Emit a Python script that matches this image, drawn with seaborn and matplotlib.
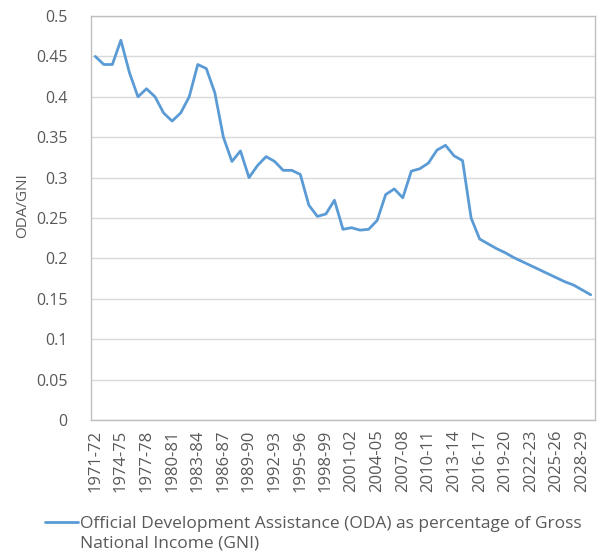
import seaborn as sns
import matplotlib.pyplot as plt
import pandas as pd

# financial years, 1971-72 through 2029-30
years = [
    '1971-72', '1972-73', '1973-74', '1974-75', '1975-76', '1976-77', '1977-78', '1978-79',
    '1979-80', '1980-81', '1981-82', '1982-83', '1983-84', '1984-85', '1985-86', '1986-87',
    '1987-88', '1988-89', '1989-90', '1990-91', '1991-92', '1992-93', '1993-94', '1994-95',
    '1995-96', '1996-97', '1997-98', '1998-99', '1999-00', '2000-01', '2001-02', '2002-03',
    '2003-04', '2004-05', '2005-06', '2006-07', '2007-08', '2008-09', '2009-10', '2010-11',
    '2011-12', '2012-13', '2013-14', '2014-15', '2015-16', '2016-17', '2017-18', '2018-19',
    '2019-20', '2020-21', '2021-22', '2022-23', '2023-24', '2024-25', '2025-26', '2026-27',
    '2027-28', '2028-29', '2029-30',
]

oda_gni = [
    0.450, 0.440, 0.440, 0.470, 0.430, 0.400, 0.410, 0.400,
    0.380, 0.370, 0.380, 0.400, 0.440, 0.435, 0.405, 0.350,
    0.320, 0.333, 0.300, 0.315, 0.326, 0.320, 0.309, 0.309,
    0.304, 0.266, 0.252, 0.255, 0.272, 0.236, 0.238, 0.235,
    0.236, 0.247, 0.279, 0.286, 0.275, 0.308, 0.311, 0.318,
    0.334, 0.340, 0.327, 0.321, 0.250, 0.224, 0.218, 0.212,
    0.207, 0.201, 0.196, 0.191, 0.186, 0.181, 0.176, 0.171,
    0.167, 0.161, 0.155,
]

label_line1 = 'Official Development Assistance (ODA) as percentage of Gross'
label_line2 = 'National Income (GNI)'

df = pd.DataFrame({'year': years, 'oda': oda_gni})

sns.set_style("white")
plt.rcParams['font.family'] = ['Open Sans', 'DejaVu Sans']

fig = plt.figure(figsize=(5.97, 5.56), dpi=100)
ax = fig.add_axes([0.1524, 0.2446, 0.8442, 0.7266])

sns.lineplot(data=df, x='year', y='oda', sort=False, color='#5B9BD5',
             linewidth=2.0, label=label_line1, ax=ax)

text_col = '#595959'
ax.set_ylim(0, 0.5)
ax.set_yticks([0, 0.05, 0.1, 0.15, 0.2, 0.25, 0.3, 0.35, 0.4, 0.45, 0.5])
ax.set_yticklabels(['0', '0.05', '0.1', '0.15', '0.2', '0.25', '0.3', '0.35',
                    '0.4', '0.45', '0.5'])
ax.set_xlim(-0.5, len(years) - 0.5)
ax.set_xticks(range(0, len(years), 3))
ax.set_xticklabels(years[::3], rotation=90)
ax.tick_params(axis='both', length=0, colors=text_col)
ax.tick_params(axis='x', labelsize=12, pad=7)
ax.tick_params(axis='y', labelsize=11.5, pad=17)

ax.grid(axis='y', color='#d9d9d9', linewidth=1)
ax.set_axisbelow(True)
for s in ax.spines.values():
    s.set_color('#bfbfbf')
    s.set_linewidth(1)

ax.set_xlabel('')
ax.set_ylabel('ODA/GNI', fontsize=11, color=text_col)
ax.yaxis.set_label_coords(-0.12, 0.53)

leg = ax.legend(loc='upper left', bbox_to_anchor=(0.064, 0.084), bbox_transform=fig.transFigure,
                frameon=False, fontsize=12.5, handlelength=1.9, handletextpad=0.1,
                labelcolor=text_col, borderaxespad=0)

# second line of the legend entry, left-aligned under the first
fig.canvas.draw()
bb = leg.get_texts()[0].get_window_extent().transformed(fig.transFigure.inverted())
fig.text(bb.x0, bb.y0 - 0.006, label_line2, fontsize=12.5, color=text_col,
         ha='left', va='top')

plt.savefig('out.png', dpi=100)
